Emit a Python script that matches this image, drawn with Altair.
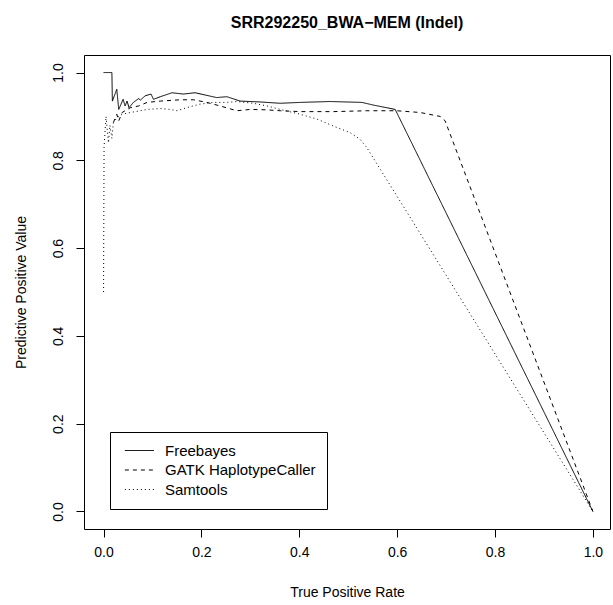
import altair as alt
import pandas as pd

# Precision / recall curves per variant caller (TPR on x, PPV on y)
callers = ["Freebayes", "GATK HaplotypeCaller", "Samtools"]

fb_tpr = [0.0, 0.017, 0.018, 0.027, 0.031, 0.040, 0.044, 0.048, 0.052, 0.061, 0.072, 0.075,
          0.085, 0.097, 0.102, 0.116, 0.140, 0.163, 0.187, 0.211, 0.231, 0.252, 0.279, 0.320,
          0.361, 0.402, 0.463, 0.528, 0.551, 0.596, 1.0]
fb_ppv = [1.0, 1.0, 0.935, 0.962, 0.916, 0.939, 0.924, 0.935, 0.920, 0.932, 0.941, 0.937,
          0.947, 0.951, 0.939, 0.945, 0.954, 0.951, 0.954, 0.948, 0.943, 0.945, 0.935, 0.933,
          0.930, 0.932, 0.934, 0.932, 0.926, 0.916, 0.0]

gatk_tpr = [0.020, 0.027, 0.031, 0.038, 0.044, 0.055, 0.072, 0.089, 0.116, 0.157, 0.184,
            0.211, 0.238, 0.272, 0.300, 0.334, 0.361, 0.402, 0.470, 0.538, 0.599, 0.647,
            0.688, 0.698, 1.0]
gatk_ppv = [0.886, 0.905, 0.890, 0.909, 0.913, 0.920, 0.924, 0.932, 0.935, 0.938, 0.938,
            0.932, 0.924, 0.913, 0.916, 0.915, 0.913, 0.911, 0.911, 0.913, 0.913, 0.909,
            0.900, 0.890, 0.0]

sam_tpr = [0.0, 0.001, 0.005, 0.010, 0.013, 0.017, 0.020, 0.027, 0.038, 0.055, 0.089, 0.116,
           0.136, 0.150, 0.170, 0.197, 0.225, 0.252, 0.272, 0.306, 0.334, 0.361, 0.402, 0.436,
           0.470, 0.504, 0.524, 0.538, 1.0]
sam_ppv = [0.50, 0.83, 0.90, 0.84, 0.88, 0.85, 0.885, 0.897, 0.905, 0.909, 0.916, 0.918,
           0.916, 0.913, 0.920, 0.928, 0.932, 0.932, 0.934, 0.930, 0.924, 0.916, 0.905, 0.894,
           0.878, 0.863, 0.848, 0.829, 0.0]

tick_values = [0.0, 0.2, 0.4, 0.6, 0.8, 1.0]
dashes = [[1, 0], [4, 4], [1, 3]]

rows = []
for name, xs, ys in zip(callers, [fb_tpr, gatk_tpr, sam_tpr], [fb_ppv, gatk_ppv, sam_ppv]):
    for i, (x, y) in enumerate(zip(xs, ys)):
        rows.append({"caller": name, "idx": i, "tpr": x, "ppv": y})
df = pd.DataFrame(rows)

FONT = "Liberation Sans"
FS = 14

x_axis = alt.Axis(
    values=tick_values, format=".1f", grid=False, domain=False,
    tickSize=8, tickColor="black", tickWidth=1,
    labelFont=FONT, labelFontSize=FS, labelColor="black", labelPadding=8,
    labelBaseline="top", labelFlush=False,
    titleFont=FONT, titleFontSize=FS, titleFontWeight="normal", titleColor="black",
    titleBaseline="alphabetic", titleY=67,
)
y_axis = alt.Axis(
    values=tick_values, format=".1f", grid=False, domain=False,
    tickSize=8, tickColor="black", tickWidth=1,
    labelFont=FONT, labelFontSize=FS, labelColor="black", labelPadding=14,
    labelAngle=270, labelAlign="center", labelBaseline="alphabetic", labelFlush=False,
    titleFont=FONT, titleFontSize=FS, titleFontWeight="normal", titleColor="black",
    titleAngle=270, titleAlign="center", titleBaseline="alphabetic",
    titleX=-59, titleY=237,
)

# a horizontal stroke drawn to the right of the symbol anchor
legend_symbol = "M-1,0H7"

chart = alt.Chart(df).mark_line(color="black", strokeWidth=1, clip=True).encode(
    x=alt.X("tpr:Q", title="True Positive Rate",
            scale=alt.Scale(domain=[-0.04, 1.035], nice=False, zero=False), axis=x_axis),
    y=alt.Y("ppv:Q", title="Predictive Positive Value",
            scale=alt.Scale(domain=[-0.04, 1.04], nice=False, zero=False), axis=y_axis),
    strokeDash=alt.StrokeDash(
        "caller:N",
        scale=alt.Scale(domain=callers, range=dashes),
        legend=alt.Legend(
            title=None, orient="none", legendX=26, legendY=377,
            strokeColor="black", fillColor="white", padding=11,
            symbolType=legend_symbol, symbolSize=52.6, symbolStrokeColor="black",
            symbolStrokeWidth=1, labelFont=FONT, labelFontSize=15,
            labelColor="black", labelOffset=29, rowPadding=3.5,
        ),
    ),
    order="idx:Q",
).properties(
    width=526, height=474,
    title=alt.TitleParams(
        "SRR292250_BWA\u2212MEM (Indel)", font=FONT, fontSize=16, fontWeight="bold",
        color="black", anchor="middle", frame="group", offset=24,
    ),
    autosize="none",
    padding={"left": 84, "top": 55, "right": 3, "bottom": 76},
).configure_view(stroke="black", strokeWidth=1)

chart.save("out.html", embed_options={"renderer": "svg", "actions": False})
